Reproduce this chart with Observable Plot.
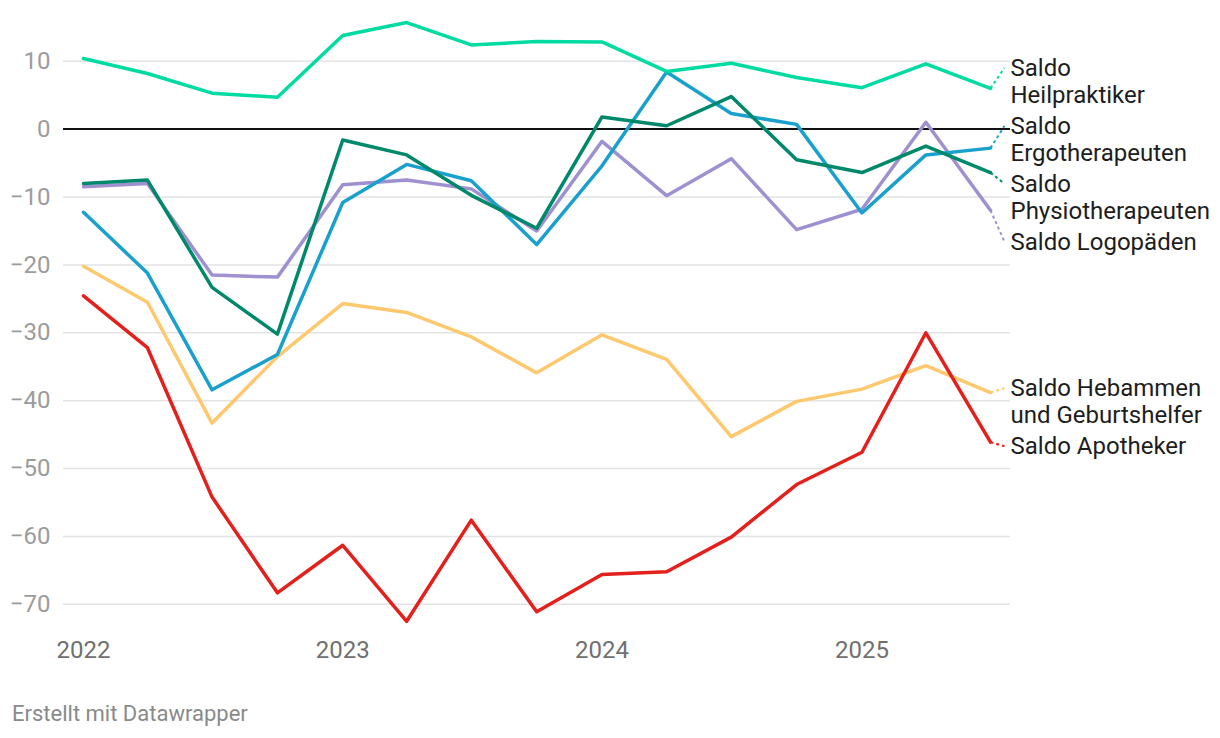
<!DOCTYPE html>
<html><head><meta charset="utf-8">
<script src="https://cdn.jsdelivr.net/npm/d3@7"></script>
<script src="https://cdn.jsdelivr.net/npm/@observablehq/plot@0.6"></script>
<style>
body{margin:0;background:#fff;font-family:Roboto,sans-serif;}
#chart{position:relative;width:1220px;height:738px;overflow:hidden;}
#footer{position:absolute;left:12px;top:701px;font-size:22px;color:#8a8a8a;font-family:Roboto,sans-serif;}
</style></head><body>
<div id="chart"><div id="footer">Erstellt mit Datawrapper</div></div>
<script>
// ---- data ----
const quarters = ["2022-01-01","2022-04-01","2022-07-01","2022-10-01","2023-01-01","2023-04-01","2023-07-01","2023-10-01","2024-01-01","2024-04-01","2024-07-01","2024-10-01","2025-01-01","2025-04-01","2025-07-01"];
const heilpraktiker     = [10.4, 8.2, 5.3, 4.7, 13.8, 15.7, 12.4, 12.9, 12.85, 8.5, 9.7, 7.6, 6.1, 9.6, 6.0];
const ergotherapeuten   = [-12.25, -21.2, -38.4, -33.2, -10.8, -5.2, -7.6, -17.0, -5.4, 8.4, 2.3, 0.7, -12.35, -3.8, -2.8];
const physiotherapeuten = [-8.0, -7.5, -23.3, -30.2, -1.6, -3.8, -9.75, -14.6, 1.8, 0.5, 4.8, -4.5, -6.4, -2.5, -6.4];
const logopaeden        = [-8.5, -8.0, -21.5, -21.8, -8.2, -7.5, -8.8, -15.0, -1.8, -9.8, -4.35, -14.8, -11.8, 1.0, -11.95];
const hebammen          = [-20.2, -25.5, -43.3, -33.5, -25.7, -27.0, -30.6, -35.9, -30.3, -33.9, -45.3, -40.1, -38.3, -34.85, -38.8];
const apotheker         = [-24.55, -32.2, -54.2, -68.3, -61.3, -72.5, -57.6, -71.1, -65.6, -65.2, -60.1, -52.35, -47.6, -30.0, -46.1];
const seriesLabels = ["Saldo Logopäden", "Saldo Hebammen\nund Geburtshelfer", "Saldo\nErgotherapeuten", "Saldo\nPhysiotherapeuten", "Saldo\nHeilpraktiker", "Saldo Apotheker"];
const yTicks = [10, 0, -10, -20, -30, -40, -50, -60, -70];
const xTickYears = ["2022-01-01","2023-01-01","2024-01-01","2025-01-01"];

// ---- styling / layout ----
const colors = ["#9f90d0", "#fec86f", "#1aa0cc", "#00886a", "#00dba2", "#e3201b"];
const seriesValues = [logopaeden, hebammen, ergotherapeuten, physiotherapeuten, heilpraktiker, apotheker];
const W = 1220, H = 670, mL = 63, mR = 210, mT = 20, mB = 39;
const yDomain = [-74, 16];
const dates = quarters.map(d => new Date(d));
const xDomain = [dates[0], dates[dates.length - 1]];
const xs = d3.scaleUtc(xDomain, [mL + 20, W - mR - 20]);
const ys = d3.scaleLinear(yDomain, [H - mB, mT]);

const series = seriesValues.map((vals, i) => ({
  label: seriesLabels[i], color: colors[i],
  rows: vals.map((v, j) => ({date: dates[j], value: v}))
}));

// ---- label placement (cluster dodge) ----
const lineH = 27, gap = 4;
const items = series.map(s => ({
  s, lines: s.label.split("\n").length,
  target: ys(s.rows[s.rows.length - 1].value)
})).sort((a, b) => a.target - b.target);
let clusters = items.map(it => ({items: [it]}));
function place(c) {
  let off = 0;
  const offs = c.items.map(it => { const o = off; off += it.lines * lineH + gap; return o; });
  c.pos = d3.mean(c.items.map((it, i) => it.target - offs[i]));
  c.items.forEach((it, i) => it.y = c.pos + offs[i]);
  c.end = c.pos + off;
}
clusters.forEach(place);
let merged = true;
while (merged) {
  merged = false;
  for (let i = 0; i < clusters.length - 1; i++) {
    if (clusters[i].end > clusters[i + 1].pos) {
      clusters[i].items = clusters[i].items.concat(clusters[i + 1].items);
      clusters.splice(i + 1, 1);
      place(clusters[i]);
      merged = true;
      break;
    }
  }
}
const last = xDomain[1];
const leaderEnd = xs.invert(xs(last) + 14);

const marks = [
  Plot.ruleY(yTicks.filter(d => d !== 0), {stroke: "#e3e3e3", strokeWidth: 1.5}),
  Plot.ruleY([0], {stroke: "#111", strokeWidth: 2}),
  Plot.axisY(yTicks, {tickSize: 0, tickPadding: 13, fontSize: 24, color: "#9c9c9c", label: null, tickFormat: d3.format("d")}),
  Plot.axisX(xTickYears.map(d => new Date(d)), {tickSize: 0, tickPadding: 9, fontSize: 24, color: "#707070", label: null, tickFormat: d3.utcFormat("%Y")})
];
series.forEach(s => {
  marks.push(Plot.line(s.rows, {x: "date", y: "value", stroke: s.color, strokeWidth: 3.5}));
});
items.forEach(it => {
  const lv = it.s.rows[it.s.rows.length - 1].value;
  marks.push(Plot.link([{x1: last, y1: lv, x2: leaderEnd, y2: ys.invert(it.y)}],
    {x1: "x1", y1: "y1", x2: "x2", y2: "y2", stroke: it.s.color, strokeWidth: 2, strokeDasharray: "3,3"}));
  marks.push(Plot.text([{date: last, y: ys.invert(it.y), label: it.s.label}],
    {x: "date", y: "y", text: "label", fill: "#1d1d1d", textAnchor: "start", lineAnchor: "top",
     dx: 20, dy: -11, fontSize: 24, lineHeight: 27 / 24}));
});

const plot = Plot.plot({
  width: W, height: H,
  marginLeft: mL, marginRight: mR, marginTop: mT, marginBottom: mB,
  style: {fontFamily: "Roboto", background: "#fff", overflow: "visible"},
  x: {type: "utc", domain: xDomain, insetLeft: 20, insetRight: 20},
  y: {domain: yDomain},
  marks
});
document.getElementById("chart").prepend(plot);
</script>
</body></html>
